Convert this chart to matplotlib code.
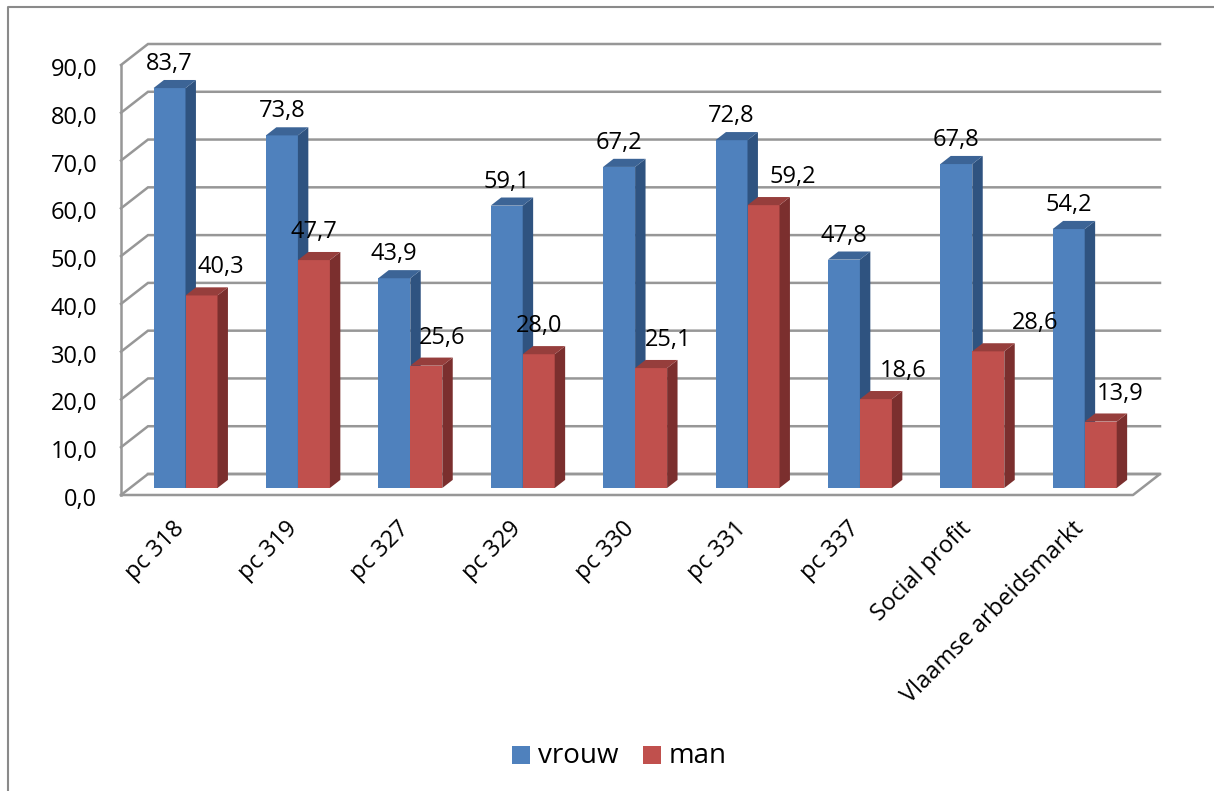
import matplotlib
matplotlib.use("Agg")
import matplotlib.pyplot as plt
from matplotlib.patches import Rectangle
from matplotlib.transforms import ScaledTranslation

categories = ["pc 318", "pc 319", "pc 327", "pc 329", "pc 330", "pc 331", "pc 337",
              "Social profit", "Vlaamse arbeidsmarkt"]
vrouw = [83.7, 73.8, 43.9, 59.1, 67.2, 72.8, 47.8, 67.8, 54.2]
man = [40.3, 47.7, 25.6, 28.0, 25.1, 59.2, 18.6, 28.6, 13.9]
y_ticks = [0, 10, 20, 30, 40, 50, 60, 70, 80, 90]

# the labels in the man series were dragged around by hand in the original (pixels)
man_label_shift = [19, 0, 16, 0, 17, 29, 27, 47, 19]

W, H = 1214, 791
plt.rcParams['font.family'] = ['Open Sans', 'DejaVu Sans']
fs = 17

GREY = "#979797"
BLUE, BLUE_SIDE, BLUE_TOP = "#4f81bd", "#2f5380", "#3c6496"
RED, RED_SIDE, RED_TOP = "#c0504d", "#7b2f2e", "#963e3c"

fig = plt.figure(figsize=(W / 100, H / 100), dpi=100)

# axes = front plane of the 3d box, in pixels of the picture
left, right, top, bottom = 121, 1133, 65, 495
ax = fig.add_axes([left / W, 1 - bottom / H, (right - left) / W, (bottom - top) / H])
ax.set_ylim(0, 90)
px_y = (bottom - top) / 90.0   # pixels per unit
step = 112.4                   # pixels per category
ax.set_xlim(-(185.5 - left) / step, (right - 185.5) / step)
px_x = step
bar_w = 32 / step


# depth offset of the box, in data units
def depth(d):
    return 27 * d / px_x, 21 * d / px_y


def fmt(v):
    return ("%.1f" % v).replace(".", ",")


# walls
dx, dy = depth(1)
x0, x1 = ax.get_xlim()
for t in y_ticks:
    ax.plot([x0, x0 + dx, x1 + dx], [t, t + dy, t + dy], color=GREY, lw=1.8, clip_on=False, zorder=1,
            solid_joinstyle="miter")
ax.plot([x0 + dx, x1 + dx, x1, x0], [dy, dy, 0, 0], color=GREY, lw=1.8, clip_on=False, zorder=1)


# bars
def bar3d(i, val, offs, c, side, topc, z):
    ax0, ay0 = depth(1 / 3)
    ax1, ay1 = depth(0.72)
    xa = i + offs + ax0 - 9 / px_x
    xb = xa + bar_w
    ya = ay0
    yb = ya + val
    sx, sy = ax1 - ax0, ay1 - ay0
    ax.bar(xa, val, width=bar_w, bottom=ya, align="edge", color=c, zorder=3 + z, clip_on=False)
    ax.fill([xb, xb + sx, xb + sx, xb], [ya, ya + sy, yb + sy, yb], color=side, lw=0, zorder=3 + z, clip_on=False)
    ax.fill([xa, xb, xb + sx, xa + sx], [yb, yb, yb + sy, yb + sy], color=topc, lw=0, zorder=3 + z, clip_on=False)
    return (xa + xb) / 2, yb


for i in range(len(categories)):
    cx, cy = bar3d(i, vrouw[i], -bar_w, BLUE, BLUE_SIDE, BLUE_TOP, i * 2)
    ax.text(cx, cy + 24 / px_y, fmt(vrouw[i]), fontsize=fs, ha="center", va="center", zorder=50)
    cx, cy = bar3d(i, man[i], 0, RED, RED_SIDE, RED_TOP, i * 2 + 1)
    ax.text(cx + man_label_shift[i] / px_x, cy + 28 / px_y, fmt(man[i]), fontsize=fs,
            ha="center", va="center", zorder=50)

# axis
for s in ["top", "right", "bottom"]:
    ax.spines[s].set_visible(False)
ax.spines["left"].set_color(GREY)
ax.spines["left"].set_linewidth(1.8)
ax.patch.set_alpha(0)
ax.set_yticks(y_ticks)
ax.set_yticklabels(["%d,0" % t for t in y_ticks], fontsize=fs)
ax.tick_params(axis="y", length=0, pad=17)
nudge = ScaledTranslation(0, -2 / 100, fig.dpi_scale_trans)
for lab in ax.get_yticklabels():
    lab.set_transform(lab.get_transform() + nudge)
ax.set_xticks(range(len(categories)))
ax.set_xticklabels(categories, fontsize=fs, rotation=45, ha="right", rotation_mode="anchor")
ax.tick_params(axis="x", length=0, pad=14)
nudge_x = ScaledTranslation(-13 / 100, -2 / 100, fig.dpi_scale_trans)
for lab in ax.get_xticklabels():
    lab.set_transform(lab.get_transform() + nudge_x)

# legend
for x, c, lab in [(512, BLUE, "vrouw"), (643, RED, "man")]:
    fig.add_artist(Rectangle((x / W, 1 - 764 / H), 18 / W, 18 / H, color=c, lw=0, transform=fig.transFigure))
    fig.text((x + 26) / W, 1 - 756 / H, lab, fontsize=20, va="center", ha="left")

# chart frame
fig.add_artist(plt.Line2D([8 / W, 8 / W, 1], [0, 1 - 7 / H, 1 - 7 / H], color="#8a8a8a", lw=1.5))

fig.savefig("out.png", dpi=100)
